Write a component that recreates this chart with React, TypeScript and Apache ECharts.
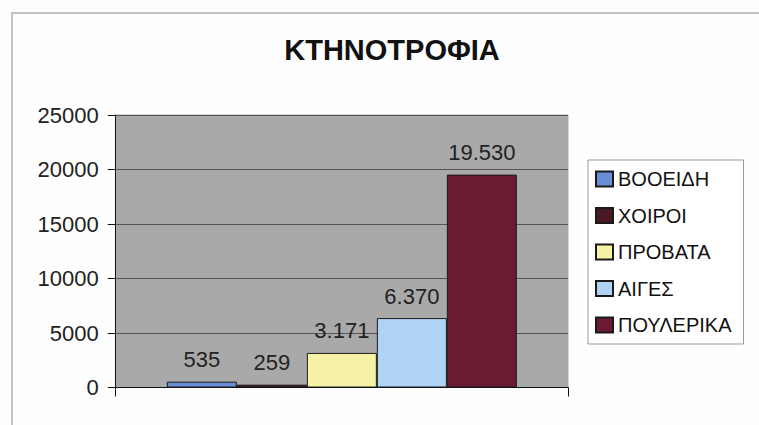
import React, { useEffect, useRef } from "react";
import * as echarts from "echarts";

const title = "ΚΤΗΝΟΤΡΟΦΙΑ";
const categories = [""];
const seriesNames = ["ΒΟΟΕΙΔΗ", "ΧΟΙΡΟΙ", "ΠΡΟΒΑΤΑ", "ΑΙΓΕΣ", "ΠΟΥΛΕΡΙΚΑ"];
const seriesValues = [535, 259, 3171, 6370, 19530];
const seriesColors = ["#6a8ed6", "#4a1822", "#f7f3a6", "#b0d3f5", "#6b1a32"];

const fmt = (v: number) => {
  const s = String(Math.round(v));
  return s.length > 3 ? s.slice(0, s.length - 3) + "." + s.slice(s.length - 3) : s;
};

export default function App() {
  const ref = useRef<HTMLDivElement>(null);
  useEffect(() => {
    if (!ref.current) return;
    const chart = echarts.init(ref.current, undefined, { renderer: "svg" });
    const font = "Arial, 'Liberation Sans', sans-serif";
    chart.setOption({
      animation: false,
      backgroundColor: "#fdfefd",
      textStyle: { fontFamily: font },
      title: {
        text: title,
        left: 387,
        textAlign: "center",
        top: 30,
        textStyle: { fontSize: 29, fontWeight: "bold", color: "#111", fontFamily: font },
      },
      graphic: [
        {
          type: "rect",
          shape: { x: 12, y: 13, width: 800, height: 500 },
          style: { fill: "none", stroke: "#b0b0b0", lineWidth: 1.5 },
          silent: true,
          z: 0,
        },
      ],
      legend: {
        orient: "vertical",
        left: 588,
        top: 160,
        width: 169,
        backgroundColor: "#ffffff",
        borderColor: "#999",
        borderWidth: 1,
        padding: [9, 12, 9, 7],
        itemWidth: 17,
        itemHeight: 15,
        itemGap: 16.5,
        icon: "rect",
        textStyle: { fontSize: 20, lineHeight: 18, color: "#111", fontFamily: font },
        data: seriesNames,
      },
      grid: {
        left: 115.7,
        right: 191,
        top: 115,
        bottom: 37.5,
        show: true,
        backgroundColor: "#a9a9a9",
        borderColor: "#a9a9a9",
        borderWidth: 1,
      },
      xAxis: {
        type: "category",
        data: categories,
        axisLine: { lineStyle: { color: "#111", width: 1 } },
        axisTick: { show: true, length: 9, lineStyle: { color: "#111" } },
        axisLabel: { show: false },
      },
      yAxis: {
        type: "value",
        min: 0,
        max: 25000,
        interval: 5000,
        axisLine: { show: true, lineStyle: { color: "#111", width: 1 } },
        axisTick: { show: true, length: 8, lineStyle: { color: "#111" } },
        axisLabel: {
          fontSize: 22,
          color: "#222",
          margin: 17,
          fontFamily: font,
          formatter: (v: number) => String(v),
        },
        splitLine: { lineStyle: { color: "#555", width: 1 } },
      },
      series: seriesNames.map((name, i) => ({
        name,
        type: "bar",
        data: [seriesValues[i]],
        barWidth: 70,
        barGap: "0%",
        itemStyle: { color: seriesColors[i], borderColor: "#1a1a1a", borderWidth: 1 },
        label: {
          show: true,
          position: "top",
          distance: 11,
          fontSize: 22,
          color: "#222",
          fontFamily: font,
          formatter: (p: any) => fmt(p.value),
        },
      })),
    });
    return () => chart.dispose();
  }, []);
  return <div ref={ref} style={{ width: 759, height: 425, position: "absolute", left: 0, top: 0 }} />;
}
